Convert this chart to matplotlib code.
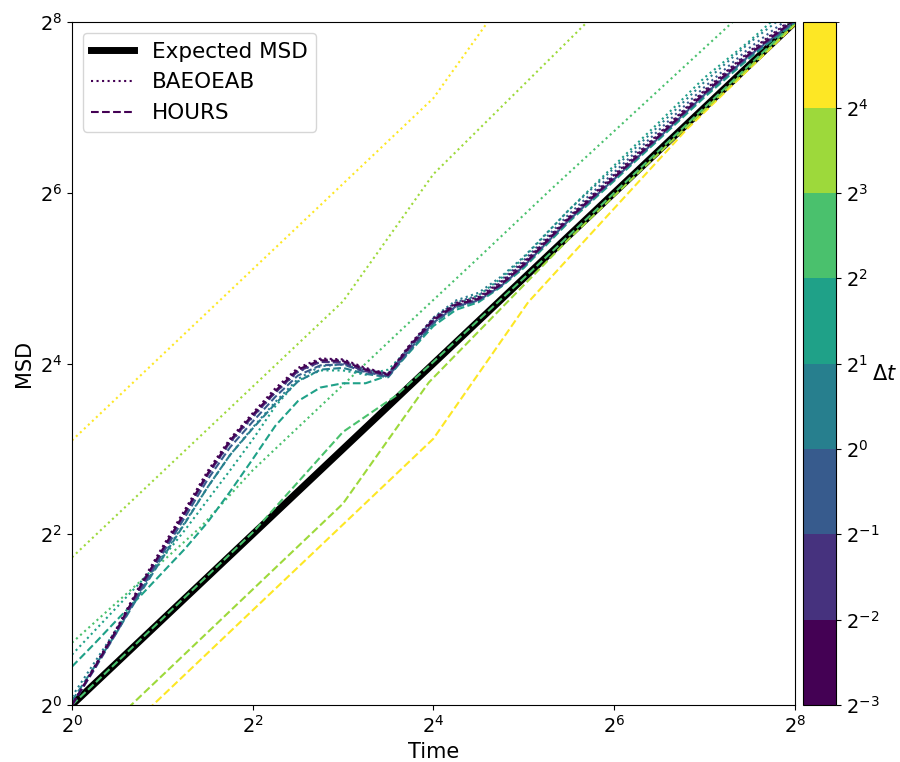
import numpy as np
import matplotlib
matplotlib.use("Agg")
import matplotlib.pyplot as plt
from matplotlib.colors import BoundaryNorm
from matplotlib.cm import ScalarMappable
from matplotlib.ticker import LogFormatterMathtext, NullLocator, FixedLocator

# time steps (powers of two) and colour bins
dt_exp = [-3, -2, -1, 0, 1, 2, 3, 4]
bin_exp = [-3, -2, -1, 0, 1, 2, 3, 4, 5]

# shared time grid (log2 of time) for the small time steps
t_fine = [0, 0.25, 0.5, 0.75, 1.0, 1.25, 1.5, 1.75, 2.0, 2.25, 2.5, 2.75, 3.0,
          3.25, 3.5, 3.75, 4.0, 4.25, 4.5, 4.75, 5.0, 5.5, 6.0, 6.5, 7.0, 7.5, 8.0]

# log2 MSD, BAEOEAB (dotted) and HOURS (dashed)
bae_m3 = [0, 0.45, 0.91, 1.40, 1.85, 2.29, 2.74, 3.12, 3.42, 3.71, 3.95, 4.06, 4.05,
          3.95, 3.88, 4.24, 4.53, 4.71, 4.78, 4.96, 5.19, 5.72, 6.21, 6.70, 7.20, 7.66, 8.06]
hours_m3 = [0, 0.44, 0.89, 1.38, 1.82, 2.26, 2.71, 3.10, 3.40, 3.68, 3.93, 4.04, 4.03,
            3.93, 3.87, 4.22, 4.51, 4.69, 4.76, 4.93, 5.16, 5.70, 6.18, 6.67, 7.17, 7.63, 8.03]
bae_m2 = [0, 0.44, 0.90, 1.38, 1.83, 2.27, 2.72, 3.10, 3.40, 3.69, 3.93, 4.05, 4.04,
          3.94, 3.88, 4.23, 4.52, 4.70, 4.77, 4.95, 5.18, 5.71, 6.20, 6.69, 7.19, 7.65, 8.05]
hours_m2 = [0, 0.43, 0.88, 1.36, 1.80, 2.24, 2.69, 3.08, 3.38, 3.66, 3.91, 4.02, 4.01,
            3.91, 3.86, 4.20, 4.50, 4.68, 4.75, 4.92, 5.15, 5.69, 6.17, 6.66, 7.16, 7.62, 8.02]
bae_m1 = [0, 0.45, 0.90, 1.37, 1.81, 2.25, 2.69, 3.07, 3.37, 3.66, 3.90, 4.02, 4.02,
          3.93, 3.88, 4.22, 4.53, 4.72, 4.80, 4.98, 5.21, 5.75, 6.24, 6.74, 7.24, 7.70, 8.10]
hours_m1 = [0, 0.42, 0.86, 1.33, 1.77, 2.20, 2.64, 3.02, 3.32, 3.61, 3.86, 3.98, 3.99,
            3.90, 3.85, 4.18, 4.48, 4.67, 4.74, 4.91, 5.14, 5.68, 6.16, 6.65, 7.15, 7.61, 8.01]
bae_0 = [0.10, 0.50, 0.90, 1.32, 1.74, 2.14, 2.55, 2.93, 3.25, 3.55, 3.82, 3.97, 3.99,
         3.92, 3.88, 4.22, 4.54, 4.74, 4.83, 5.02, 5.25, 5.80, 6.29, 6.79, 7.30, 7.76, 8.17]
hours_0 = [0.05, 0.45, 0.86, 1.30, 1.72, 2.13, 2.55, 2.93, 3.24, 3.53, 3.79, 3.93, 3.95,
           3.88, 3.84, 4.16, 4.47, 4.66, 4.74, 4.91, 5.14, 5.68, 6.16, 6.65, 7.14, 7.60, 8.00]
bae_1 = [0.59, 0.87, 1.15, 1.43, 1.72, 2.05, 2.40, 2.75, 3.11, 3.50, 3.80, 3.92, 3.92,
         3.87, 3.93, 4.20, 4.50, 4.70, 4.80, 5.00, 5.24, 5.80, 6.32, 6.83, 7.35, 7.78, 8.25]
hours_1 = [0.45, 0.72, 1.00, 1.27, 1.55, 1.83, 2.14, 2.50, 2.88, 3.27, 3.56, 3.72, 3.77,
           3.77, 3.86, 4.15, 4.44, 4.63, 4.72, 4.90, 5.12, 5.66, 6.14, 6.63, 7.12, 7.58, 8.00]

# larger time steps: their own (log2 time, log2 MSD) vertices
t_bae_2 = [0, 1.42, 2.0, 2.8, 3.63, 4.51, 5.29, 7.3, 7.5]
bae_2 = [0.73, 2.08, 2.75, 3.55, 4.38, 5.25, 6.03, 7.99, 8.2]
t_hours_2 = [0, 2.0, 3.0, 3.58, 4.0, 5.0, 8.0]
hours_2 = [0, 2.02, 3.20, 3.62, 4.02, 5.0, 8.0]
t_bae_3 = [0, 3.0, 4.0, 5.7, 6.0]
bae_3 = [1.73, 4.73, 6.22, 8.0, 8.32]
t_hours_3 = [0, 3.0, 3.95, 5.5, 8.0]
hours_3 = [-0.66, 2.36, 3.78, 5.46, 7.98]
t_bae_4 = [0, 4.0, 4.6, 5.0]
bae_4 = [3.10, 7.11, 8.0, 8.6]
t_hours_4 = [0, 4.0, 5.05, 6.8, 8.0]
hours_4 = [-0.90, 3.12, 4.72, 6.74, 7.97]

bae_runs = [(t_fine, bae_m3), (t_fine, bae_m2), (t_fine, bae_m1), (t_fine, bae_0),
            (t_fine, bae_1), (t_bae_2, bae_2), (t_bae_3, bae_3), (t_bae_4, bae_4)]
hours_runs = [(t_fine, hours_m3), (t_fine, hours_m2), (t_fine, hours_m1), (t_fine, hours_0),
              (t_fine, hours_1), (t_hours_2, hours_2), (t_hours_3, hours_3), (t_hours_4, hours_4)]

cmap = plt.cm.viridis
bounds = 2.0 ** np.array(bin_exp)
norm = BoundaryNorm(bounds, cmap.N)

fig = plt.figure(figsize=(9, 7.62), dpi=100)
ax = fig.add_axes([0.08, 0.0748, 0.803, 0.896])
cax = fig.add_axes([0.892, 0.0748, 0.037, 0.896])

t_line = 2.0 ** np.array([0, 8])
ax.plot(t_line, t_line, color="black", lw=5, label="Expected MSD", zorder=1)

for i in reversed(range(len(dt_exp))):
    c = cmap(norm(2.0 ** dt_exp[i]))
    tb, mb = bae_runs[i]
    th, mh = hours_runs[i]
    ax.plot(2.0 ** np.array(tb), 2.0 ** np.array(mb), ls=":", color=c, lw=1.5)
    ax.plot(2.0 ** np.array(th), 2.0 ** np.array(mh), ls="--", color=c, lw=1.5)

# legend handles
c0 = cmap(norm(2.0 ** dt_exp[0]))
ax.plot([], [], ls=":", color=c0, lw=1.5, label="BAEOEAB")
ax.plot([], [], ls="--", color=c0, lw=1.5, label="HOURS")

ax.set_xscale("log", base=2)
ax.set_yscale("log", base=2)
ax.set_xlim(1, 256)
ax.set_ylim(1, 256)
ticks = [1, 4, 16, 64, 256]
for axis in (ax.xaxis, ax.yaxis):
    axis.set_major_locator(FixedLocator(ticks))
    axis.set_major_formatter(LogFormatterMathtext(base=2))
    axis.set_minor_locator(NullLocator())
ax.tick_params(labelsize=14)
ax.set_xlabel("Time", fontsize=15)
ax.set_ylabel("MSD", fontsize=15)
ax.legend(loc="upper left", fontsize=15.5)

sm = ScalarMappable(norm=norm, cmap=cmap)
cbar = fig.colorbar(sm, cax=cax, ticks=bounds[:-1])
cbar.set_ticklabels([r"$2^{%d}$" % k for k in bin_exp[:-1]])
cbar.ax.tick_params(labelsize=14)
cbar.set_label(r"$\Delta t$", rotation=0, fontsize=15, labelpad=4, va="top")

fig.savefig("out.png", dpi=100)
